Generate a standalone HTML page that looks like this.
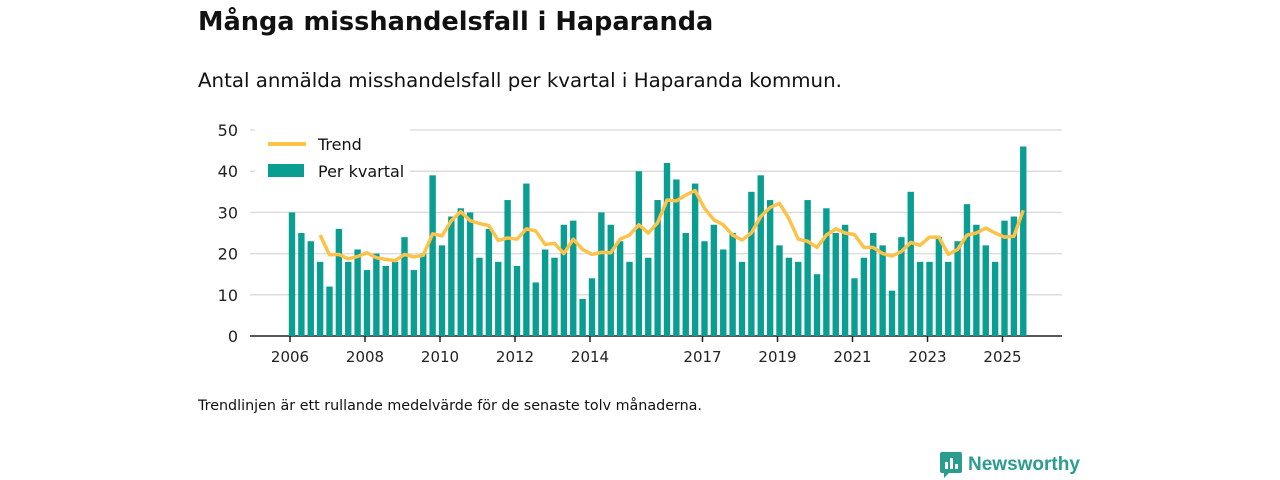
<!DOCTYPE html>
<html><head><meta charset="utf-8"><style>
body{margin:0;width:1280px;height:480px;background:#fff;font-family:"DejaVu Sans","Liberation Sans",sans-serif;color:#111;overflow:hidden;position:relative}
.t{position:absolute;left:198px;top:7px;font-size:25.6px;font-weight:bold}
.s{position:absolute;left:198px;top:69px;font-size:19.8px}
.n{position:absolute;left:198px;top:398px;font-size:14.3px}
.logo{position:absolute;left:940px;top:452px;font-size:19px;font-weight:bold;color:#2a9d8f;display:flex;align-items:center;gap:6px;font-family:"Liberation Sans",sans-serif}
</style></head><body>
<div class="t">Många misshandelsfall i Haparanda</div>
<div class="s">Antal anmälda misshandelsfall per kvartal i Haparanda kommun.</div>
<svg id="c" width="1280" height="480" style="position:absolute;left:0;top:0;font-family:'DejaVu Sans',sans-serif"></svg>
<div class="n">Trendlinjen är ett rullande medelvärde för de senaste tolv månaderna.</div>
<div class="logo"><svg width="22" height="26" viewBox="0 0 22 26"><rect x="0" y="0" width="22" height="21" rx="2" fill="#2a9d8f"/><path d="M4 21 L4 26 L9 21Z" fill="#2a9d8f"/><rect x="5" y="10" width="3" height="7" fill="#fff"/><rect x="10" y="6" width="3" height="11" fill="#fff"/><rect x="15" y="12" width="3" height="5" fill="#fff"/></svg>Newsworthy</div>
<script>
const perQuarter=[30,25,23,18, 12,26,18,21, 16,20,17,18, 24,16,20,39, 22,29,31,30, 19,26,18,33, 17,37,13,21, 19,27,28,9, 14,30,27,23, 18,40,19,33, 42,38,25,37, 23,27,21,25, 18,35,39,33, 22,19,18,33, 15,31,25,27, 14,19,25,22, 11,24,35,18, 18,24,18,23, 32,27,22,18, 28,29,46];
const trendStart=3;
const trend=[24.5,19.7,19.8,18.7,19.3,20.2,19.0,18.6,18.3,19.8,19.2,19.6,24.8,24.3,28,30.2,28,27.3,26.8,23.2,23.8,23.5,26,25.5,22.2,22.5,20,23.5,21,19.8,20.3,20.2,23.5,24.5,27,25,27.5,33,32.8,34.2,35.3,31,28.2,27,24.5,23.3,25,29,31.2,32.2,28.5,23.5,23,21.5,24.5,26,25,24.6,21.5,21.5,20,19.4,20.5,22.7,22,24,24,19.8,21,24.5,25,26.2,25,24,24.2,30.5];
const yTicks=[0,10,20,30,40,50];
const xTickLabels=["2006","2008","2010","2012","2014","2017","2019","2021","2023","2025"];
const xTickIdx=[0,8,16,24,32,44,52,60,68,76];
const svg=document.getElementById('c');const NS='http://www.w3.org/2000/svg';
const x=i=>292+i*9.375, y=v=>336-v*4.12;
function mk(t,a,p){const e=document.createElementNS(NS,t);for(const k in a)e.setAttribute(k,a[k]);(p||svg).appendChild(e);return e;}
yTicks.forEach(v=>{
 const g=mk('line',{x1:250,x2:1062,y1:y(v),y2:y(v),stroke:v?'#ddd':'#222','stroke-width':1.5});
 
 
 const t=mk('text',{x:238,y:y(v)+6,'text-anchor':'end','font-size':16,fill:'#222'});t.textContent=v;
 
 
});
perQuarter.forEach((v,i)=>{
 const r=mk('rect',{x:x(i)-3.2,y:y(v),width:6.4,height:y(0)-y(v),fill:'#0a9e92'});
 
 
});
xTickIdx.forEach((ix,k)=>{
 mk('line',{x1:x(ix)-2,x2:x(ix)-2,y1:336,y2:342,stroke:'#222','stroke-width':1.5});
 const t=mk('text',{x:x(ix)-2,y:362,'text-anchor':'middle','font-size':15,fill:'#222'});t.textContent=xTickLabels[k];
 
 
});
const p=mk('polyline',{points:trend.map((v,i)=>x(i+trendStart)+','+y(v)).join(' '),fill:'none',stroke:'#fcc24a','stroke-width':3.5,'stroke-linejoin':'round'});


const lg=mk('g',{});


mk('rect',{x:255,y:126,width:155,height:60,fill:'#fff'},lg);
mk('line',{x1:268,x2:306,y1:144,y2:144,stroke:'#fcc24a','stroke-width':4},lg);
const l1=mk('text',{x:318,y:150,'font-size':16,fill:'#111'},lg);l1.textContent='Trend';
mk('rect',{x:268,y:164,width:36,height:13,fill:'#0a9e92'},lg);
const l2=mk('text',{x:318,y:177,'font-size':16,fill:'#111'},lg);l2.textContent='Per kvartal';
</script>
</body></html>
